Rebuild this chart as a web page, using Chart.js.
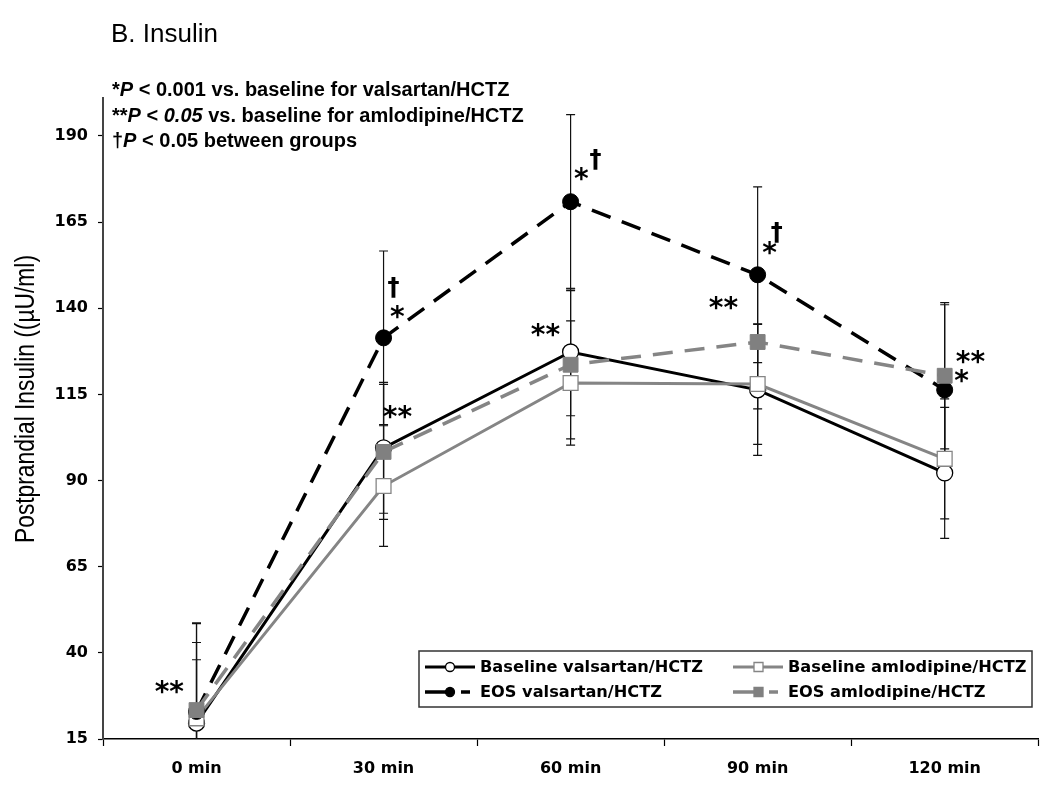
<!DOCTYPE html>
<html>
<head>
<meta charset="utf-8">
<script src="https://cdn.jsdelivr.net/npm/chart.js@4.4.1/dist/chart.umd.min.js"></script>
<style>body{margin:0;background:#fff}</style>
</head>
<body>
<canvas id="chart" width="1050" height="792"></canvas>
<script>
// values
const categories = ['0 min', '30 min', '60 min', '90 min', '120 min'];
const yTicks = [15, 40, 65, 90, 115, 140, 165, 190];

const baseVal = [19.6, 99.5, 127.3, 116.3, 92.2];
const baseValErr = [18.4, 19, 18.5, 19, 19];
const baseAml = [21, 88.4, 118.3, 118, 96.3];
const baseAmlErr = [22, 17.5, 18, 17.5, 17.4];
const eosVal = [23, 131.4, 170.9, 149.7, 116.3];
const eosValErr = [25.5, 25.2, 25.3, 25.5, 24.7];
const eosAml = [23.4, 98.3, 123.6, 130.2, 120.4];
const eosAmlErr = [25.3, 19.6, 21.5, 19.4, 21.2];

// significance marks: [category index, value, symbol]
const marks = [
  [0, 30.1, '**'],
  [1, 145.9, '†'], [1, 138.9, '*'], [1, 109.9, '**'],
  [2, 133.7, '**'], [2, 179.0, '*'], [2, 183.1, '†'],
  [3, 141.6, '**'], [3, 157.5, '*'], [3, 161.9, '†'],
  [4, 125.9, '**'], [4, 120.4, '*']
];
// horizontal nudge (px) of each mark from its category centre
const markDx = [-27, 10, 14, 14, -25, 11, 25, -34, 12, 19, 26, 17];

const GRAY = '#858585';

const extras = {
  id: 'extras',
  beforeDatasetsDraw(chart) {
    const ctx = chart.ctx, x = chart.scales.x, y = chart.scales.y, a = chart.chartArea;
    ctx.save();
    ctx.beginPath();
    ctx.rect(a.left, a.top - 5, a.right - a.left, a.bottom - a.top + 5);
    ctx.clip();
    ctx.strokeStyle = '#111';
    ctx.lineWidth = 1.2;
    chart.data.datasets.forEach(ds => {
      ds.data.forEach((v, i) => {
        const px = x.getPixelForValue(i);
        const hi = y.getPixelForValue(v + ds.err[i]);
        const lo = y.getPixelForValue(v - ds.err[i]);
        ctx.beginPath();
        ctx.moveTo(px, hi); ctx.lineTo(px, lo);
        ctx.moveTo(px - 4.5, hi); ctx.lineTo(px + 4.5, hi);
        ctx.moveTo(px - 4.5, lo); ctx.lineTo(px + 4.5, lo);
        ctx.stroke();
      });
    });
    ctx.restore();
  },
  afterDatasetsDraw(chart) {
    const ctx = chart.ctx, x = chart.scales.x, y = chart.scales.y;
    ctx.save();
    ctx.fillStyle = '#000';
    ctx.textAlign = 'left';
    ctx.textBaseline = 'alphabetic';
    marks.forEach((m, k) => {
      ctx.font = m[2] === '†' ? 'bold 24px "DejaVu Sans"' : 'bold 28px "DejaVu Sans"';
      const cx = x.getPixelForValue(m[0]) + markDx[k];
      const cy = y.getPixelForValue(m[1]);
      const t = ctx.measureText(m[2]);
      const w = t.actualBoundingBoxLeft + t.actualBoundingBoxRight;
      const h = t.actualBoundingBoxAscent + t.actualBoundingBoxDescent;
      ctx.fillText(m[2], cx - w / 2 + t.actualBoundingBoxLeft, cy - h / 2 + t.actualBoundingBoxAscent);
    });
    ctx.restore();
  },
  afterDraw(chart) {
    const ctx = chart.ctx;
    ctx.save();
    ctx.fillStyle = '#000';
    ctx.textBaseline = 'alphabetic';
    ctx.textAlign = 'left';
    ctx.font = '26px "Liberation Sans"';
    ctx.fillText('B. Insulin', 111, 42);

    // footnote lines, mixed italic
    const notes = [
      [['*', 0], ['P', 1], [' < 0.001 vs. baseline for valsartan/HCTZ', 0]],
      [['**', 0], ['P', 1], [' < ', 0], ['0.05', 1], [' vs. baseline for amlodipine/HCTZ', 0]],
      [['†', 0], ['P', 1], [' < 0.05 between groups', 0]]
    ];
    notes.forEach((line, r) => {
      let px = 112;
      line.forEach(([s, it]) => {
        ctx.font = (it ? 'italic ' : '') + 'bold 20px "Liberation Sans"';
        ctx.fillText(s, px, 96 + r * 25.5);
        px += ctx.measureText(s).width;
      });
    });

    // y axis title: tall glyphs squeezed along the text direction
    ctx.save();
    ctx.translate(34, 399);
    ctx.rotate(-Math.PI / 2);
    ctx.textAlign = 'center';
    ctx.font = '27px "Liberation Sans"';
    const yt = 'Postprandial Insulin ((µU/ml)';
    ctx.scale(288 / ctx.measureText(yt).width, 1);
    ctx.fillText(yt, 0, 0);
    ctx.restore();

    // legend box
    ctx.strokeStyle = '#333';
    ctx.lineWidth = 1.5;
    ctx.strokeRect(419, 651, 613, 56);
    const slots = [[425, 667], [733, 667], [425, 692], [733, 692]];
    chart.data.datasets.forEach((ds, k) => {
      const [lx, ly] = slots[k];
      ctx.save();
      ctx.strokeStyle = ds.borderColor;
      ctx.lineWidth = ds.borderWidth;
      ctx.setLineDash(ds.borderDash ? [22, 14, 9, 100] : []);
      ctx.beginPath();
      ctx.moveTo(lx, ly); ctx.lineTo(lx + 50, ly);
      ctx.stroke();
      ctx.setLineDash([]);
      ctx.fillStyle = ds.pointBackgroundColor;
      ctx.strokeStyle = ds.pointBorderColor;
      ctx.lineWidth = 1.3;
      ctx.beginPath();
      if (ds.pointStyle === 'circle') ctx.arc(lx + 25, ly, 4.5, 0, Math.PI * 2);
      else ctx.rect(lx + 21, ly - 4.5, 9, 9);
      ctx.fill(); ctx.stroke();
      ctx.restore();
      ctx.font = 'bold 16.2px "DejaVu Sans"';
      ctx.textBaseline = 'middle';
      ctx.fillText(ds.label, lx + 55, ly + 1);
    });
    ctx.restore();
  }
};

new Chart(document.getElementById('chart'), {
  type: 'line',
  data: {
    labels: categories,
    datasets: [
      { label: 'Baseline valsartan/HCTZ', data: baseVal, err: baseValErr, order: 3,
        borderColor: '#000', borderWidth: 3, pointStyle: 'circle', pointRadius: 8,
        pointBackgroundColor: '#fff', pointBorderColor: '#000', pointBorderWidth: 1.3 },
      { label: 'Baseline amlodipine/HCTZ', data: baseAml, err: baseAmlErr, order: 2,
        borderColor: GRAY, borderWidth: 3, pointStyle: 'rect', pointRadius: 10.5,
        pointBackgroundColor: '#fff', pointBorderColor: GRAY, pointBorderWidth: 1.3 },
      { label: 'EOS valsartan/HCTZ', data: eosVal, err: eosValErr, order: 1,
        borderColor: '#000', borderWidth: 3.5, borderDash: [20, 12], pointStyle: 'circle', pointRadius: 8,
        pointBackgroundColor: '#000', pointBorderColor: '#000', pointBorderWidth: 1 },
      { label: 'EOS amlodipine/HCTZ', data: eosAml, err: eosAmlErr, order: 0,
        borderColor: GRAY, borderWidth: 3.5, borderDash: [20, 12], pointStyle: 'rect', pointRadius: 10.5,
        pointBackgroundColor: '#808080', pointBorderColor: '#808080', pointBorderWidth: 1 }
    ]
  },
  options: {
    responsive: false,
    animation: false,
    devicePixelRatio: 1,
    layout: { padding: { top: 98, right: 7, left: 0, bottom: 0 } },
    plugins: { legend: { display: false }, tooltip: { enabled: false }, title: { display: false } },
    scales: {
      x: {
        offset: true,
        grid: { display: true, drawOnChartArea: false, offset: true, tickLength: 7, color: '#000', tickWidth: 1.2 },
        border: { color: '#000', width: 1.5 },
        ticks: { padding: 13, color: '#000', font: { family: 'DejaVu Sans', weight: 'bold', size: 16 }, maxRotation: 0 },
        afterFit(s) { s.height = 53; }
      },
      y: {
        min: 15,
        max: 201,
        afterBuildTicks(s) { s.ticks = yTicks.map(v => ({ value: v })); },
        grid: { display: true, drawOnChartArea: false, tickLength: 5, color: '#000', tickWidth: 1.2 },
        border: { color: '#444', width: 2 },
        ticks: { padding: 10, color: '#000', font: { family: 'DejaVu Sans', weight: 'bold', size: 16 } },
        afterFit(s) { s.width = 103; }
      }
    }
  },
  plugins: [extras]
});
</script>
</body>
</html>
